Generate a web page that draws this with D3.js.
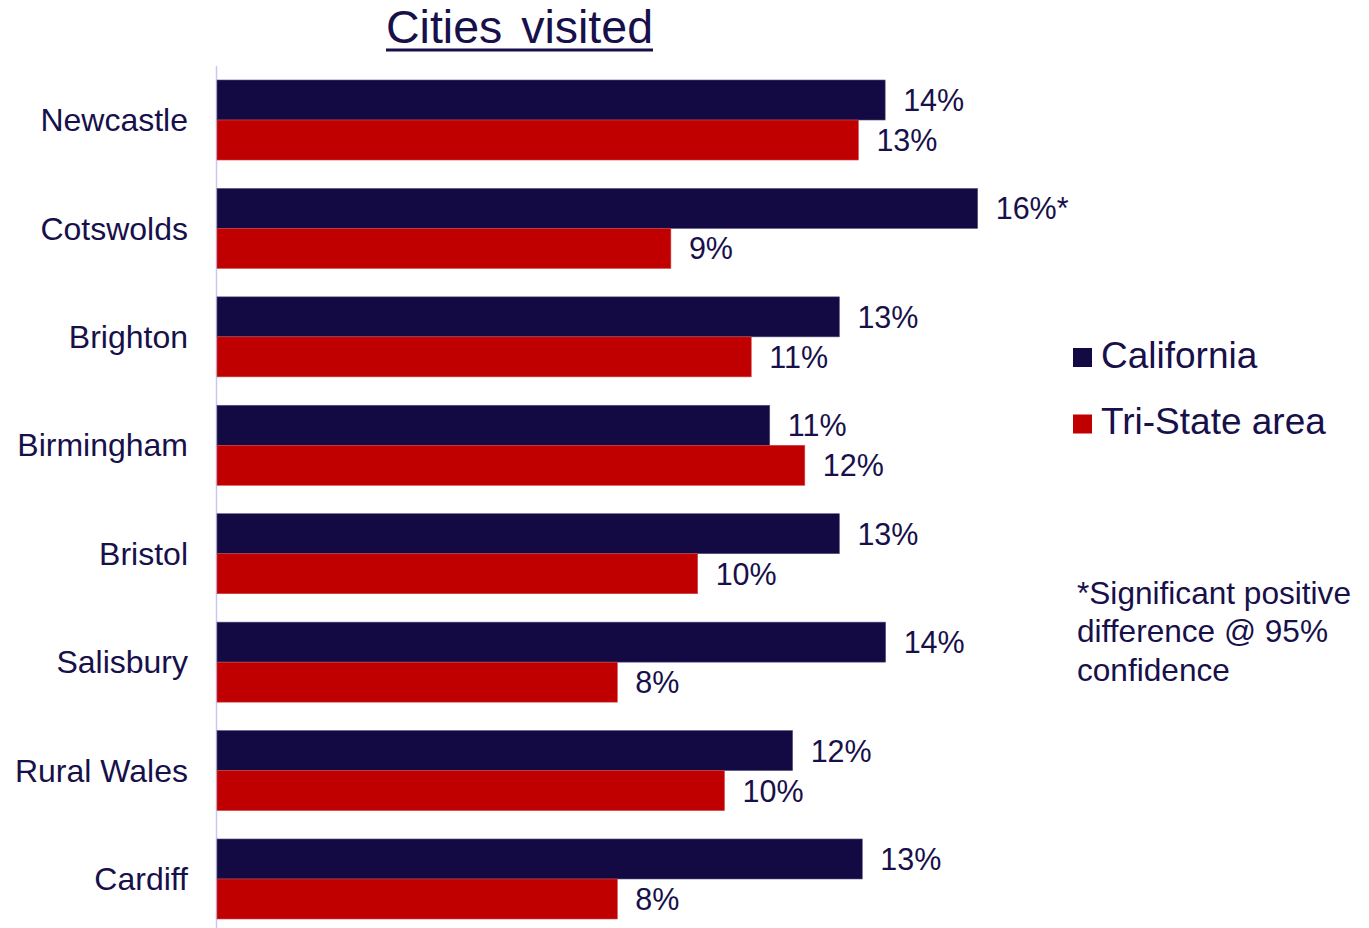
<!DOCTYPE html>
<html>
<head>
<meta charset="utf-8">
<script src="https://cdn.jsdelivr.net/npm/d3@7"></script>
<style>
  html, body { margin: 0; padding: 0; background: #ffffff; }
  svg { display: block; font-family: "Liberation Sans", Arial, sans-serif; }
</style>
</head>
<body>
<svg id="chart" width="1369" height="928"></svg>
<script>
// Share of respondents who visited each city, by home region (percent)
const cities = ["Newcastle", "Cotswolds", "Brighton", "Birmingham", "Bristol", "Salisbury", "Rural Wales", "Cardiff"];
const california = [13.72, 15.62, 12.78, 11.35, 12.78, 13.73, 11.82, 13.25];
const triState   = [13.17, 9.32, 10.97, 12.07, 9.87, 8.22, 10.42, 8.22];
// Marks a statistically significant positive difference
const significant = [false, true, false, false, false, false, false, false];
const seriesNames = ["California", "Tri-State area"];
const noteLines = ["*Significant positive", "difference @ 95%", "confidence"];

const colors = ["#130943", "#c00000"];
const textColor = "#17104a";

const svg = d3.select("#chart");

const x = d3.scaleLinear().domain([0, 20]).range([217, 1191]);
const y = d3.scaleBand().domain(cities).range([80, 919]).paddingInner(0.262).paddingOuter(0);
const sub = d3.scaleBand().domain(seriesNames).range([0, y.bandwidth()]);

// Title with underline
const title = svg.append("text")
  .attr("x", 386).attr("y", 42.5)
  .attr("fill", textColor)
  .style("font-size", "46.5px")
  .style("word-spacing", "6px")
  .text("Cities visited");
const tb = title.node().getBBox();
svg.append("rect")
  .attr("x", tb.x).attr("y", 48.5)
  .attr("width", tb.width).attr("height", 3)
  .attr("fill", textColor);

// Vertical category axis line
svg.append("line")
  .attr("x1", 216.5).attr("x2", 216.5)
  .attr("y1", 66).attr("y2", 928)
  .attr("stroke", "#c9c6f2").attr("stroke-width", 1.5);

const rows = cities.map((c, i) => ({
  city: c,
  values: [
    { series: seriesNames[0], v: california[i], sig: significant[i] },
    { series: seriesNames[1], v: triState[i], sig: false }
  ]
}));

const groups = svg.append("g").selectAll("g")
  .data(rows).join("g")
  .attr("transform", d => `translate(0,${y(d.city)})`);

groups.selectAll("rect")
  .data(d => d.values).join("rect")
  .attr("x", x(0))
  .attr("y", d => sub(d.series))
  .attr("width", d => x(d.v) - x(0))
  .attr("height", sub.bandwidth())
  .attr("fill", (d, i) => colors[i])
  .attr("stroke", (d, i) => i === 0 ? "#5a5485" : "#d04848")
  .attr("stroke-width", 0.6);

const fmt = d3.format(".0f");
groups.selectAll("text.val")
  .data(d => d.values).join("text")
  .attr("class", "val")
  .attr("x", d => x(d.v) + 18)
  .attr("y", d => sub(d.series) + sub.bandwidth() / 2)
  .attr("dy", "0.36em")
  .attr("fill", textColor)
  .style("font-size", "30.5px")
  .text(d => fmt(d.v) + "%" + (d.sig ? "*" : ""));

// Category labels
svg.append("g").selectAll("text")
  .data(cities).join("text")
  .attr("x", 188)
  .attr("y", d => y(d) + y.bandwidth() / 2)
  .attr("dy", "0.35em")
  .attr("text-anchor", "end")
  .attr("fill", textColor)
  .style("font-size", "32px")
  .text(d => d);

// Legend
const legend = svg.append("g").selectAll("g")
  .data(seriesNames).join("g")
  .attr("transform", (d, i) => `translate(1073,${348 + i * 66.5})`);
legend.append("rect")
  .attr("width", 19).attr("height", 19)
  .attr("fill", (d, i) => colors[i]);
legend.append("text")
  .attr("x", 28).attr("y", 19.5)
  .attr("fill", textColor)
  .style("font-size", "37px")
  .text(d => d);

// Significance note
svg.append("g").selectAll("text")
  .data(noteLines).join("text")
  .attr("x", 1077)
  .attr("y", (d, i) => 604 + i * 38.3)
  .attr("fill", textColor)
  .style("font-size", "31.6px")
  .text(d => d);
</script>
</body>
</html>
